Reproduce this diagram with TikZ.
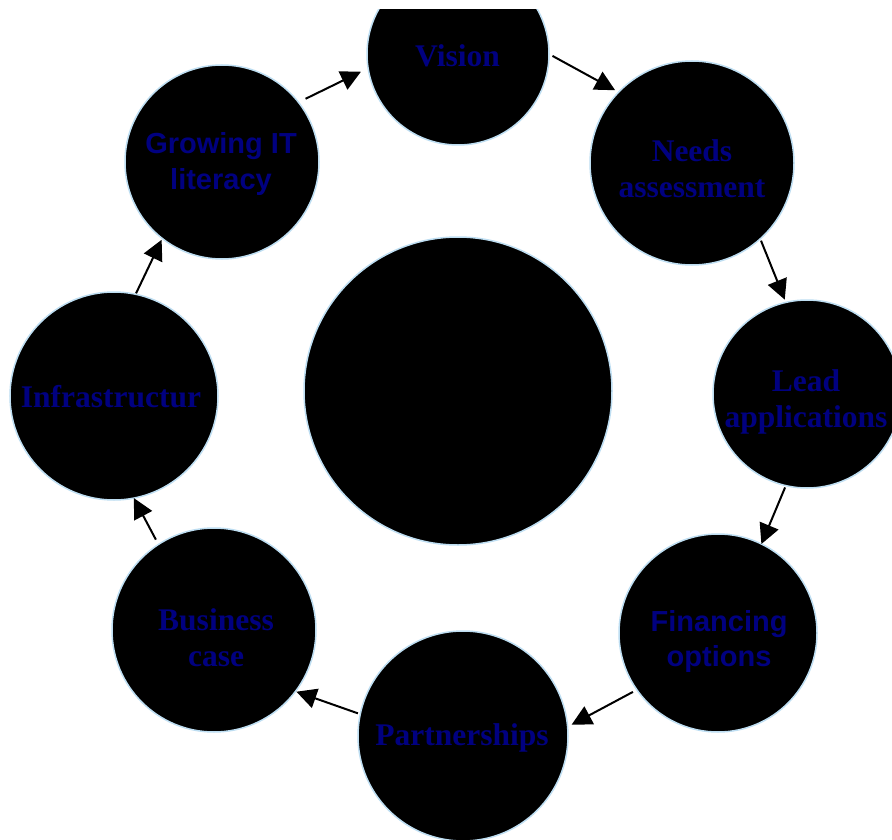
\documentclass[tikz,border=0pt]{standalone}
\usepackage{fontspec}
\setmainfont{Liberation Serif}
\newfontfamily\sansfam{Liberation Sans}
\usetikzlibrary{arrows.meta}
\definecolor{rimblue}{RGB}{190,222,242}
\definecolor{txtnavy}{RGB}{0,0,128}
\tikzset{
  bubble/.style={circle, fill=black, draw=rimblue, line width=1.5pt, inner sep=0pt, outer sep=0pt},
  serlbl/.style={text=txtnavy, align=center, inner sep=0pt, font=\fontsize{31.5}{35.5}\selectfont\bfseries},
  sanlbl/.style={text=txtnavy, align=center, inner sep=0pt, font=\sansfam\fontsize{29}{35.5}\selectfont\bfseries},
  flow/.style={draw=black, line width=2pt, -{Triangle[length=20pt,width=20pt]}}
}
\begin{document}
\begin{tikzpicture}[x=1pt,y=-1pt]
\useasboundingbox (0,0) rectangle (892,840);
\fill[white] (0,0) rectangle (892,840);
\begin{scope}
\clip (0,10) rectangle (892,840);
\node[bubble, minimum size=182pt] (vis) at (458,54) {};
\node[bubble, minimum size=204pt] (need) at (692,163) {};
\node[bubble, minimum size=188pt] (lead) at (807,394) {};
\node[bubble, minimum size=198pt] (fin) at (718,633) {};
\node[bubble, minimum size=210pt] (part) at (463,736) {};
\node[bubble, minimum size=204pt] (bus) at (214,630) {};
\node[bubble, minimum size=208pt] (infra) at (114,396) {};
\node[bubble, minimum size=194pt] (grow) at (222,162) {};
\node[bubble, minimum size=308pt] (core) at (458,391) {};
\end{scope}
\node[serlbl] (visT) at (457.5,56) {Vision};
\node[serlbl] (needT) at (692,168.5) {Needs\\assessment};
\node[serlbl] (leadT) at (806,402) {Lead\\applications};
\node[sanlbl] (finT) at (719,641.5) {Financing\\options};
\node[serlbl] (partT) at (462,737.5) {Partnerships};
\node[serlbl] (busT) at (216,637.5) {Business\\case};
\node[serlbl] (infraT) at (111,396.5) {Infrastructur};
\node[sanlbl] (growT) at (221,164) {Growing IT\\literacy};
\draw[flow, shorten <=8pt, shorten >=8pt] (grow.38) -- (vis.189);
\draw[flow, shorten <=4pt, shorten >=4pt] (vis.0) -- (need.136);
\draw[flow, shorten <=2pt, shorten >=3pt] (need.-48) -- (lead.103);
\draw[flow, shorten <=2pt, shorten >=0pt] (lead.257) -- (fin.64);
\draw[flow, shorten <=4.5pt, shorten >=4.5pt] (fin.215) -- (part.5);
\draw[flow, shorten <=2.5pt, shorten >=1pt] (part.168) -- (bus.-37);
\draw[flow, shorten <=5.5pt, shorten >=0pt] (bus.123) -- (infra.-79);
\draw[flow, shorten <=1pt, shorten >=1.5pt] (infra.78) -- (grow.232);
\end{tikzpicture}
\end{document}
